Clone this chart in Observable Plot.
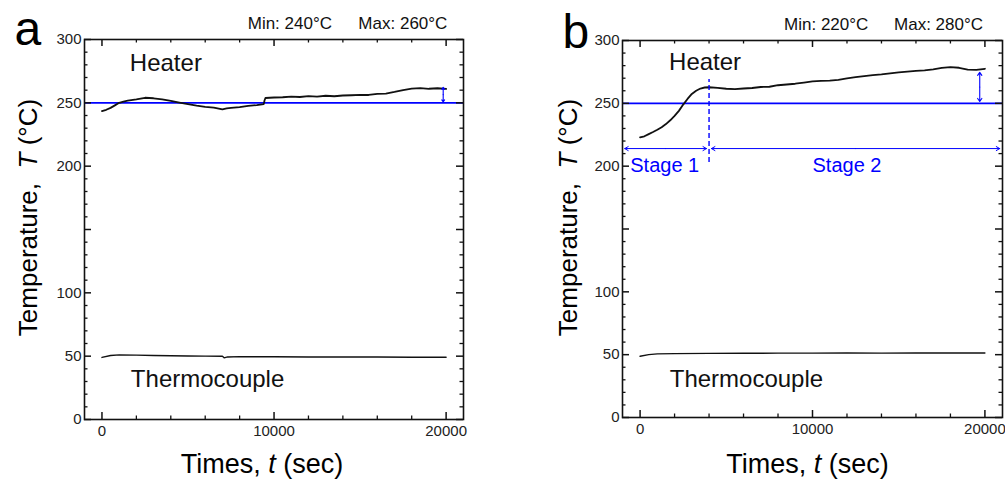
<!DOCTYPE html>
<html><head><meta charset="utf-8">
<script src="https://cdn.jsdelivr.net/npm/d3@7"></script>
<script src="https://cdn.jsdelivr.net/npm/@observablehq/plot@0.6"></script>
<style>
body{margin:0;background:#fff;}
#wrap{position:relative;width:1005px;height:479px;overflow:hidden;}
#pa{position:absolute;left:0;top:0;}
#pb{position:absolute;left:502px;top:0;}
svg text{white-space:pre;}
</style></head><body><div id="wrap"><div id="pa"></div><div id="pb"></div></div>
<script>
// ---- data ----
const heaterA_t = [0,250,500,750,1000,1250,1500,2000,2500,3000,3500,4000,4500,5000,5500,6000,6500,7000,7250,7500,8000,8500,9000,9400,9450,9500,10000,10500,11000,11500,12000,12500,13000,13500,14000,14500,15000,15500,16000,16500,17000,17500,18000,18500,19000,19500,20000];
const heaterA_T = [243.5,244.5,246,248,250,251,251.8,252.8,254,253.6,252.8,251.5,250.2,249,247.8,246.8,246.2,244.8,245.6,246,246.6,247.6,248.2,249,252,253.8,254.2,254.4,254.9,254.6,255.3,254.9,255.6,255.2,255.8,256,256.3,256.2,257,257.3,258.6,260.1,261.2,261.6,261.1,261.5,261];
const thermoA_t = [0,500,1000,2000,3000,4000,5000,6000,7000,7100,7300,8000,10000,12000,14000,16000,18000,20000];
const thermoA_T = [49,50.5,51,50.8,50.5,50.3,50.1,50,49.9,48.7,49.4,49.6,49.5,49.4,49.3,49.3,49.2,49.2];

const heaterB_t = [0,250,500,750,1000,1250,1500,1750,2000,2250,2500,2750,3000,3250,3500,3750,4000,4500,5000,5500,6000,6500,7000,7500,8000,8500,9000,9500,10000,10500,11000,11500,12000,12500,13000,13500,14000,14500,15000,15500,16000,16500,17000,17500,18000,18500,19000,19500,20000];
const heaterB_T = [223,223.8,225.5,227.2,229,231,233.5,236.5,240,244,249,253.5,257.5,260,261.8,262.6,262.8,262.3,261.6,261.3,261.8,262.2,263,263.2,264.4,265,265.6,266.5,267.4,267.8,268,268.7,269.9,270.8,271.6,272.4,273,273.8,274.6,275.2,275.9,276.3,277,278.2,278.8,278.3,276.8,276.6,277.5];
const thermoB_t = [0,500,1000,2000,4000,6000,8000,10000,12000,14000,16000,18000,20000];
const thermoB_T = [48.7,50,50.6,50.8,51,51.1,51.2,51.2,51.3,51.2,51.3,51.3,51.3];

const setpoint = 250;
const xTickLabels = [0, 10000, 20000];
const xMinorTicks = [2000,4000,6000,8000,12000,14000,16000,18000];
const yTickLabels = [0, 50, 100, 200, 250, 300];
const yMajorTicks = [0, 50, 100, 150, 200, 250, 300];
const yMinorTicks = d3.range(0, 301, 10).filter(v => v % 50 !== 0);

const minMaxA = ["Min: 240°C", "Max: 260°C"];
const minMaxB = ["Min: 220°C", "Max: 280°C"];
const stageLabels = ["Stage 1", "Stage 2"];
const stageArrows = [{x1: -890, x2: 3850, y1: 214, y2: 214}, {x1: 4140, x2: 20860, y1: 214, y2: 214}];
const stageDivider = {x: 4000, y1: 203, y2: 269};
const deviationA = [{x1: 19830, x2: 19830, y1: 250.8, y2: 262.2}];
const deviationB = [{x1: 19700, x2: 19700, y1: 251.5, y2: 274.6}];

const BLUE = "#0000ff";
const INK = "#111";
const FONT = "'Liberation Sans', Arial, sans-serif";

const zip = (ts, Ts) => ts.map((t, i) => ({t, T: Ts[i]}));
// split each double-headed arrow into two halves from its midpoint
const halves = segs => segs.flatMap(s => {
  const mx = (s.x1 + s.x2) / 2, my = (s.y1 + s.y2) / 2;
  return [{x1: mx, y1: my, x2: s.x1, y2: s.y1}, {x1: mx, y1: my, x2: s.x2, y2: s.y2}];
});

function panel(cfg) {
  const fw = cfg.width - cfg.ml - cfg.mr, fh = cfg.height - cfg.mt - cfg.mb;
  const marks = [
    Plot.ruleY([setpoint], {stroke: BLUE, strokeWidth: 1.6}),
    Plot.line(zip(cfg.heater[0], cfg.heater[1]), {x: "t", y: "T", stroke: INK, strokeWidth: 1.8}),
    Plot.line(zip(cfg.thermo[0], cfg.thermo[1]), {x: "t", y: "T", stroke: INK, strokeWidth: 1.4}),
    // inward ticks
    Plot.tickX(xTickLabels, {x: d => d, insetTop: fh - 7, stroke: INK, strokeWidth: 1.5}),
    Plot.tickX(xTickLabels, {x: d => d, insetBottom: fh - 7, stroke: INK, strokeWidth: 1.5}),
    Plot.tickX(xMinorTicks, {x: d => d, insetTop: fh - 3.5, stroke: INK, strokeWidth: 1.3}),
    Plot.tickX(xMinorTicks, {x: d => d, insetBottom: fh - 3.5, stroke: INK, strokeWidth: 1.3}),
    Plot.tickY(yMajorTicks, {y: d => d, insetRight: fw - 7, stroke: INK, strokeWidth: 1.5}),
    Plot.tickY(yMajorTicks, {y: d => d, insetLeft: fw - 7, stroke: INK, strokeWidth: 1.5}),
    Plot.tickY(yMinorTicks, {y: d => d, insetRight: fw - 3.5, stroke: INK, strokeWidth: 1.3}),
    Plot.tickY(yMinorTicks, {y: d => d, insetLeft: fw - 3.5, stroke: INK, strokeWidth: 1.3}),
    Plot.frame({stroke: INK, strokeWidth: 1.6}),
    Plot.axisX({ticks: xTickLabels, tickSize: 0, tickPadding: 6, fontSize: 15, label: null, tickFormat: d => String(d), fill: "#222"}),
    Plot.axisY({ticks: yTickLabels, tickSize: 0, tickPadding: 3, fontSize: 15, label: null, tickFormat: d => String(d), fill: "#222"}),
    // deviation arrow
    Plot.arrow(halves(cfg.deviation), {x1: "x1", y1: "y1", x2: "x2", y2: "y2", stroke: BLUE, strokeWidth: 1.1, headLength: 5, headAngle: 70}),
    // labels
    Plot.text(["Heater"], {text: d => d, x: cfg.heaterPos[0], y: cfg.heaterPos[1], textAnchor: "start", lineAnchor: "bottom", fontSize: 24, fill: INK}),
    Plot.text(["Thermocouple"], {text: d => d, x: cfg.thermoPos[0], y: cfg.thermoPos[1], textAnchor: "start", lineAnchor: "bottom", fontSize: 24, fill: INK}),
    Plot.text([cfg.minmax[0]], {text: d => d, x: cfg.minX, y: 308.5, textAnchor: "start", lineAnchor: "bottom", fontSize: 17, fill: INK}),
    Plot.text([cfg.minmax[1]], {text: d => d, x: cfg.maxX, y: 308.5, textAnchor: "start", lineAnchor: "bottom", fontSize: 17, fill: INK}),
    Plot.text([cfg.letter], {text: d => d, frameAnchor: "top-left", dx: cfg.letterDx, dy: cfg.letterDy, textAnchor: "start", lineAnchor: "bottom", fontSize: 48, fill: "#000"}),
    Plot.text(["Temperature, T (°C)"], {text: d => d, frameAnchor: "left", dx: cfg.ylabDx, dy: cfg.ylabDy, rotate: -90, textAnchor: "middle", lineAnchor: "bottom", fontSize: 26, fill: "#000"}),
    Plot.text(["Times, t (sec)"], {text: d => d, frameAnchor: "bottom", dx: cfg.xlabDx, dy: cfg.xlabDy, textAnchor: "middle", lineAnchor: "bottom", fontSize: 27, fill: "#000"})
  ];
  if (cfg.stages) {
    marks.push(
      Plot.ruleX([stageDivider], {x: "x", y1: "y1", y2: "y2", stroke: BLUE, strokeWidth: 1.4, strokeDasharray: "5,3"}),
      Plot.arrow(halves(stageArrows), {x1: "x1", y1: "y1", x2: "x2", y2: "y2", stroke: BLUE, strokeWidth: 1, headLength: 6, headAngle: 60}),
      Plot.text([{s: stageLabels[0], x: 1430}, {s: stageLabels[1], x: 12000}], {text: "s", x: "x", y: 195, textAnchor: "middle", lineAnchor: "bottom", fontSize: 20, fill: BLUE})
    );
  }
  const svg = Plot.plot({
    width: cfg.width, height: cfg.height,
    marginLeft: cfg.ml, marginRight: cfg.mr, marginTop: cfg.mt, marginBottom: cfg.mb,
    x: {domain: cfg.xdom},
    y: {domain: [0, 300]},
    style: {fontFamily: FONT, background: "white", overflow: "visible"},
    marks
  });
  // italic symbols in axis labels
  svg.querySelectorAll("text").forEach(el => {
    const s = el.textContent;
    let parts = null;
    if (s === "Temperature, T (°C)") parts = ["Temperature,  ", "T", " (°C)"];
    if (s === "Times, t (sec)") parts = ["Times, ", "t", " (sec)"];
    if (parts) {
      el.textContent = "";
      parts.forEach((p, i) => {
        const ts = document.createElementNS("http://www.w3.org/2000/svg", "tspan");
        ts.textContent = p;
        if (i === 1) ts.setAttribute("font-style", "italic");
        el.appendChild(ts);
      });
    }
  });
  return svg;
}

document.getElementById("pa").appendChild(panel({
  width: 502, height: 479, ml: 84, mr: 39, mt: 39, mb: 60,
  xdom: [-1015, 21010],
  heater: [heaterA_t, heaterA_T], thermo: [thermoA_t, thermoA_T],
  deviation: deviationA,
  heaterPos: [1620, 275.3], thermoPos: [1680, 25.5],
  minmax: minMaxA, minX: 8470, maxX: 14900,
  letter: "a", letterDx: -70, letterDy: 5,
  ylabDx: -48, ylabDy: -12, xlabDx: -12, xlabDy: 53,
  stages: false
}));
document.getElementById("pb").appendChild(panel({
  width: 503, height: 479, ml: 120, mr: 3, mt: 40, mb: 62,
  xdom: [-1020, 21020],
  heater: [heaterB_t, heaterB_T], thermo: [thermoB_t, thermoB_T],
  deviation: deviationB,
  heaterPos: [1680, 276.5], thermoPos: [1720, 24],
  minmax: minMaxB, minX: 8350, maxX: 14730,
  letter: "b", letterDx: -60, letterDy: 7,
  ylabDx: -46, ylabDy: -11.5, xlabDx: -5, xlabDy: 55,
  stages: true
}));
</script>
</body></html>
